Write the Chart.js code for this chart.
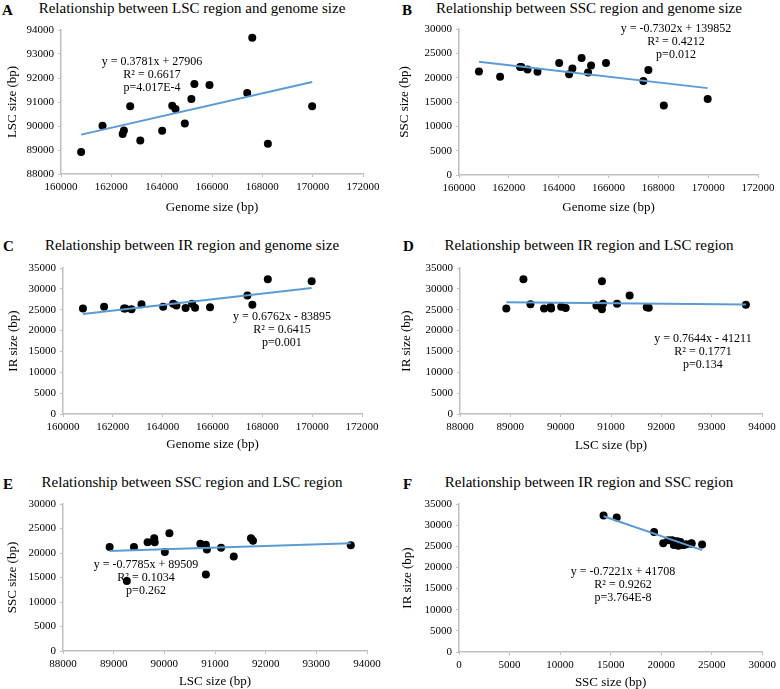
<!DOCTYPE html>
<html>
<head>
<meta charset="utf-8">
<script src="https://cdn.jsdelivr.net/npm/chart.js@4.4.1/dist/chart.umd.min.js"></script>
<style>
  body { margin: 0; background: #fff; width: 780px; height: 689px; position: relative; overflow: hidden; font-family: 'Liberation Serif', 'Times New Roman', serif; color: #000; }
  canvas { position: absolute; }
  .letter { position: absolute; font-size: 15px; font-weight: bold; line-height: 15px; }
  .title { position: absolute; font-size: 15px; line-height: 15px; white-space: nowrap; transform: translateX(-50%); }
  .eq { position: absolute; font-size: 12px; line-height: 13px; white-space: nowrap; text-align: center; transform: translateX(-50%); }
</style>
</head>
<body>
<div class="letter" style="left:2px;top:3px">A</div>
<div class="title" style="left:192px;top:1px">Relationship between LSC region and genome size</div>
<div class="letter" style="left:402px;top:3px">B</div>
<div class="title" style="left:589px;top:1px">Relationship between SSC region and genome size</div>
<div class="letter" style="left:3px;top:239px">C</div>
<div class="title" style="left:192px;top:238px">Relationship between IR region and genome size</div>
<div class="letter" style="left:403px;top:239px">D</div>
<div class="title" style="left:589px;top:238px">Relationship between IR region and LSC region</div>
<div class="letter" style="left:3px;top:477px">E</div>
<div class="title" style="left:192px;top:475px">Relationship between SSC region and LSC region</div>
<div class="letter" style="left:403px;top:477px">F</div>
<div class="title" style="left:589px;top:475px">Relationship between IR region and SSC region</div>

<canvas id="chartA"></canvas>
<canvas id="chartB"></canvas>
<canvas id="chartC"></canvas>
<canvas id="chartD"></canvas>
<canvas id="chartE"></canvas>
<canvas id="chartF"></canvas>

<div class="eq" style="left:152px;top:55px">y = 0.3781x + 27906<br>R² = 0.6617<br>p=4.017E-4</div>
<div class="eq" style="left:676px;top:22px">y = -0.7302x + 139852<br>R² = 0.4212<br>p=0.012</div>
<div class="eq" style="left:282px;top:310px">y = 0.6762x - 83895<br>R² = 0.6415<br>p=0.001</div>
<div class="eq" style="left:703px;top:332px">y = 0.7644x - 41211<br>R² = 0.1771<br>p=0.134</div>
<div class="eq" style="left:146px;top:558px">y = -0.7785x + 89509<br>R² = 0.1034<br>p=0.262</div>
<div class="eq" style="left:623px;top:565px">y = -0.7221x + 41708<br>R² = 0.9262<br>p=3.764E-8</div>

<script>
// one entry per species, same order in every array
const genomeSize = [160800, 161650, 162450, 162500, 162750, 163150, 164020, 164420, 164550, 164920, 165180, 165300, 165900, 167400, 167600, 168220, 169980];
const lscSize = [88920, 90010, 89670, 89810, 90820, 89400, 89800, 90840, 90710, 90100, 91120, 91750, 91710, 91370, 93680, 89260, 90820];
const sscSize = [21250, 20200, 22200, 22200, 21700, 21200, 23000, 20700, 21900, 24050, 21050, 22500, 23000, 19300, 21600, 14300, 15600];
const irSize = [25300, 25700, 25300, 25300, 25100, 26300, 25700, 26400, 26000, 25400, 26400, 25500, 25600, 28400, 26200, 32300, 31800];

// trend line ends
const genomeTrendX = [160800, 169980];
const lscTrendOnGenome = [89640, 91830];
const sscTrendOnGenome = [23250, 17850];
const irTrendOnGenome = [24000, 30200];
const lscTrendX = [88920, 93680];
const irTrendOnLsc = [26800, 26250];
const sscTrendOnLsc = [20400, 22000];
const sscTrendX = [14300, 24050];
const irTrendOnSsc = [32100, 24100];

Chart.defaults.font.family = "'Liberation Serif', 'Times New Roman', serif";
Chart.defaults.color = '#000';

function axisOpts(min, max, step, title, titlePad, fit) {
  return {
    type: 'linear',
    min: min, max: max,
    afterFit: fit,
    title: { display: true, text: title, font: { size: 13, lineHeight: 1 }, padding: titlePad },
    ticks: { stepSize: step, autoSkip: false, maxRotation: 0, padding: 4, font: { size: 11 }, callback: v => String(v) },
    grid: { display: true, drawOnChartArea: false, drawTicks: true, tickLength: 3, color: '#bfbfbf', lineWidth: 1 },
    border: { display: true, color: '#bfbfbf', width: 1.5 }
  };
}

function makeChart(id, o) {
  const canvas = document.getElementById(id);
  canvas.width = o.w;
  canvas.height = o.h;
  canvas.style.left = o.x + 'px';
  canvas.style.top = o.y + 'px';
  const a = o.area;
  const points = o.xs.map((x, i) => ({ x: x, y: o.ys[i] }));
  const trend = o.trendX.map((x, i) => ({ x: x, y: o.trendY[i] }));
  new Chart(canvas, {
    type: 'scatter',
    data: {
      datasets: [
        { data: trend, showLine: true, borderColor: '#5b9bd5', borderWidth: 2, pointRadius: 0, pointHoverRadius: 0 },
        { data: points, pointRadius: 4, pointHoverRadius: 4, backgroundColor: '#000', borderWidth: 0 }
      ]
    },
    options: {
      responsive: false,
      animation: false,
      events: [],
      layout: { padding: { top: a.top - o.y, right: o.x + o.w - a.right, left: 0, bottom: 0 } },
      plugins: { legend: { display: false }, tooltip: { enabled: false } },
      scales: {
        x: axisOpts(o.xMin, o.xMax, o.xStep, o.xTitle,
          { top: 0, bottom: o.y + o.h - o.xTitleY - 6.5 },
          s => { s.height = o.y + o.h - a.bottom; }),
        y: axisOpts(o.yMin, o.yMax, o.yStep, o.yTitle,
          { top: o.yTitleX - o.x - 6.5, bottom: 0 },
          s => { s.width = a.left - o.x; })
      }
    }
  });
}

makeChart('chartA', {
  x: 0, y: 0, w: 390, h: 228, area: { left: 61, top: 30, right: 363, bottom: 174 },
  xs: genomeSize, ys: lscSize, trendX: genomeTrendX, trendY: lscTrendOnGenome,
  xMin: 160000, xMax: 172000, xStep: 2000, yMin: 88000, yMax: 94000, yStep: 1000,
  xTitle: 'Genome size (bp)', yTitle: 'LSC size (bp)', xTitleY: 208, yTitleX: 13
});
makeChart('chartB', {
  x: 390, y: 0, w: 390, h: 228, area: { left: 459, top: 29, right: 758, bottom: 175 },
  xs: genomeSize, ys: sscSize, trendX: genomeTrendX, trendY: sscTrendOnGenome,
  xMin: 160000, xMax: 172000, xStep: 2000, yMin: 0, yMax: 30000, yStep: 5000,
  xTitle: 'Genome size (bp)', yTitle: 'SSC size (bp)', xTitleY: 208, yTitleX: 405
});
makeChart('chartC', {
  x: 0, y: 228, w: 390, h: 227, area: { left: 63, top: 268, right: 362, bottom: 414 },
  xs: genomeSize, ys: irSize, trendX: genomeTrendX, trendY: irTrendOnGenome,
  xMin: 160000, xMax: 172000, xStep: 2000, yMin: 0, yMax: 35000, yStep: 5000,
  xTitle: 'Genome size (bp)', yTitle: 'IR size (bp)', xTitleY: 445, yTitleX: 14
});
makeChart('chartD', {
  x: 390, y: 228, w: 390, h: 227, area: { left: 460, top: 268, right: 762, bottom: 414 },
  xs: lscSize, ys: irSize, trendX: lscTrendX, trendY: irTrendOnLsc,
  xMin: 88000, xMax: 94000, xStep: 1000, yMin: 0, yMax: 35000, yStep: 5000,
  xTitle: 'LSC size (bp)', yTitle: 'IR size (bp)', xTitleY: 446, yTitleX: 407
});
makeChart('chartE', {
  x: 0, y: 455, w: 390, h: 234, area: { left: 63, top: 504, right: 367, bottom: 651 },
  xs: lscSize, ys: sscSize, trendX: lscTrendX, trendY: sscTrendOnLsc,
  xMin: 88000, xMax: 94000, xStep: 1000, yMin: 0, yMax: 30000, yStep: 5000,
  xTitle: 'LSC size (bp)', yTitle: 'SSC size (bp)', xTitleY: 682, yTitleX: 13
});
makeChart('chartF', {
  x: 390, y: 455, w: 390, h: 234, area: { left: 459, top: 504, right: 763, bottom: 652 },
  xs: sscSize, ys: irSize, trendX: sscTrendX, trendY: irTrendOnSsc,
  xMin: 0, xMax: 30000, xStep: 5000, yMin: 0, yMax: 35000, yStep: 5000,
  xTitle: 'SSC size (bp)', yTitle: 'IR size (bp)', xTitleY: 683, yTitleX: 408
});
</script>
</body>
</html>
